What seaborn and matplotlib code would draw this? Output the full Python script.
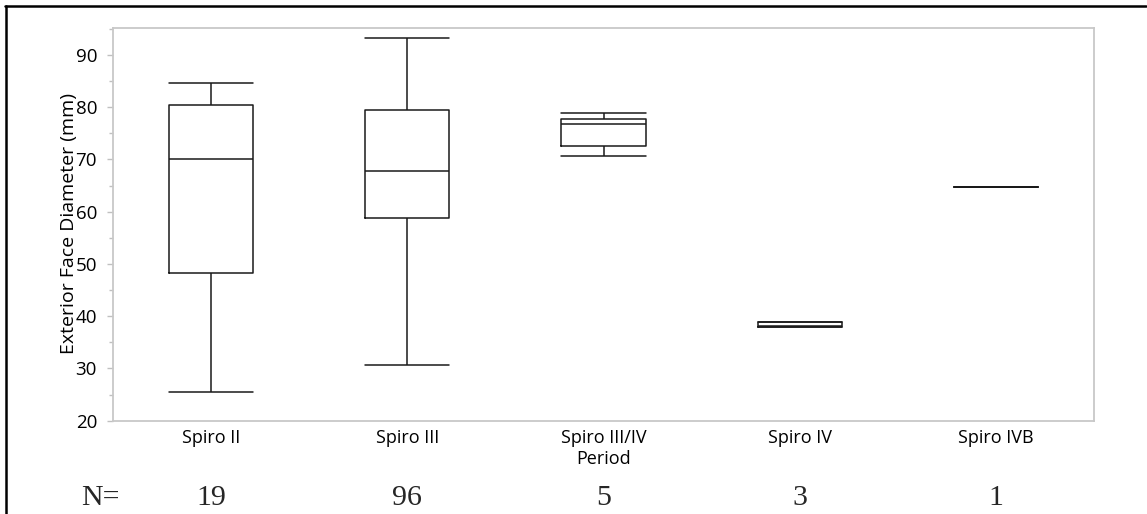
import numpy as np
import pandas as pd
import matplotlib
matplotlib.use("Agg")
import matplotlib.pyplot as plt
from matplotlib.lines import Line2D
from matplotlib.ticker import MultipleLocator
import matplotlib.transforms as mtransforms
import seaborn as sns

# ---- data (five-number summaries: min, Q1, median, Q3, max)
categories = ["Spiro II", "Spiro III", "Spiro III/IV\nPeriod", "Spiro IV", "Spiro IVB"]
counts = [19, 96, 5, 3, 1]
spiro_ii = [25.5, 48.2, 70.1, 80.5, 84.7]
spiro_iii = [30.6, 58.7, 67.7, 79.5, 93.3]
spiro_iii_iv = [70.7, 72.6, 76.7, 77.7, 78.8]
spiro_iv = [38.0, 38.0, 38.1, 38.9, 38.9]
spiro_ivb = [64.8]
y_ticks = [20, 30, 40, 50, 60, 70, 80, 90]
y_label = "Exterior Face Diameter (mm)"

groups = [spiro_ii, spiro_iii, spiro_iii_iv, spiro_iv, spiro_ivb]
df = pd.DataFrame({
    "period": [c for c, g in zip(categories, groups) for _ in g],
    "diameter": [v for g in groups for v in g],
})

sns.set_style("white")
plt.rcParams["font.family"] = ["Open Sans", "DejaVu Sans"]

fig = plt.figure(figsize=(11.47, 5.14), dpi=100)
ax = fig.add_axes([113 / 1147, 1 - 420.7 / 514, 981 / 1147, (420.7 - 28.3) / 514])

line_col = "#1a1a1a"
sns.boxplot(
    data=df, x="period", y="diameter", order=categories, ax=ax,
    fill=False, color=line_col, linecolor=line_col, linewidth=1.1,
    width=0.43, whis=(0, 100), showfliers=False, capwidths=0.43,
)

ax.set_ylim(20, 95.1)
ax.set_xlim(-0.5, 4.5)
ax.set_yticks(y_ticks)
ax.yaxis.set_minor_locator(MultipleLocator(5))
ax.tick_params(axis="y", which="major", left=True, length=4.5, width=1,
               color="#c0c0c0", labelsize=13.5, pad=7, labelcolor="#000000")
ax.tick_params(axis="y", which="minor", left=True, length=3, width=1,
               color="#c0c0c0")
ax.tick_params(axis="x", length=0, labelsize=13, pad=6, labelcolor="#000000")
ax.set_xlabel("")
ax.set_ylabel(y_label, fontsize=14, color="#000000")
ax.yaxis.set_label_coords(-0.036, 0.503)
for s in ax.spines.values():
    s.set_visible(True)
    s.set_color("#c8c8c8")
    s.set_linewidth(1.3)

# N row
trans = mtransforms.blended_transform_factory(ax.transData, ax.transAxes)
for i, n in enumerate(counts):
    ax.text(i, -0.198, str(n), transform=trans, ha="center", va="center",
            fontsize=21.5, family="Liberation Serif", clip_on=False)
ax.text(-0.566, -0.198, "N=", transform=trans, ha="center", va="center",
        fontsize=21.5, family="Liberation Serif", clip_on=False)

# figure frame (top and left edges)
fig.add_artist(Line2D([5 / 1147, 1146 / 1147], [1 - 6 / 514, 1 - 6 / 514],
                      color="black", linewidth=1.8, transform=fig.transFigure))
fig.add_artist(Line2D([6 / 1147, 6 / 1147], [0, 1 - 6 / 514],
                      color="black", linewidth=1.8, transform=fig.transFigure))

fig.savefig("out.png", dpi=100, facecolor="white")
